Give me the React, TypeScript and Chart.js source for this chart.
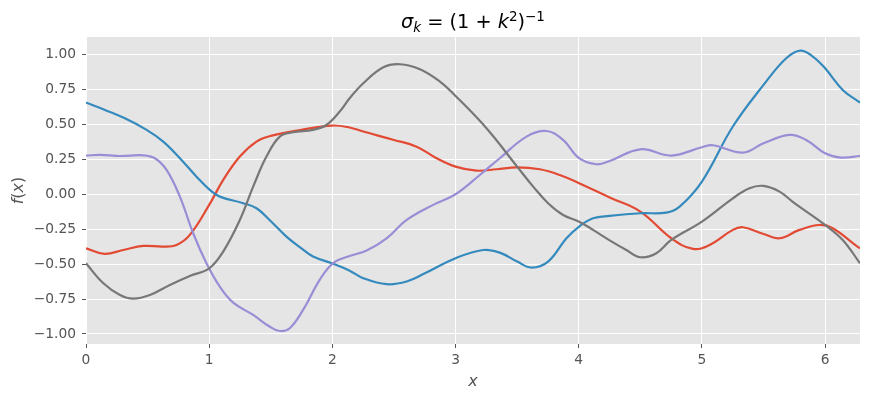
import { useEffect, useRef } from 'react';
import { Chart, registerables } from 'chart.js';

Chart.register(...registerables);

const TWO_PI = 2 * Math.PI;

const redX = [0, 0.149, 0.303, 0.465, 0.627, 0.735, 0.843, 1.0, 1.114, 1.249, 1.384, 1.5, 1.749, 1.997, 2.14, 2.251, 2.5, 2.684, 2.846, 3.0, 3.17, 3.332, 3.5, 3.684, 3.846, 4.003, 4.251, 4.5, 4.751, 4.927, 5.062, 5.251, 5.332, 5.5, 5.63, 5.792, 5.954, 6.062, 6.251, TWO_PI];
const redY = [-0.387, -0.427, -0.399, -0.37, -0.375, -0.363, -0.291, -0.076, 0.103, 0.27, 0.377, 0.418, 0.461, 0.492, 0.478, 0.449, 0.389, 0.341, 0.258, 0.198, 0.169, 0.179, 0.193, 0.179, 0.138, 0.079, -0.023, -0.124, -0.315, -0.391, -0.363, -0.255, -0.236, -0.284, -0.315, -0.255, -0.22, -0.243, -0.368, -0.387];

const blueX = [0, 0.154, 0.316, 0.492, 0.627, 0.762, 0.897, 1.005, 1.086, 1.276, 1.384, 1.49, 1.627, 1.749, 1.843, 1.997, 2.14, 2.251, 2.44, 2.603, 2.751, 3.0, 3.224, 3.359, 3.5, 3.616, 3.751, 3.9, 4.003, 4.116, 4.251, 4.5, 4.711, 4.819, 5.0, 5.251, 5.5, 5.684, 5.8, 5.9, 6.0, 6.143, TWO_PI];
const blueY = [0.656, 0.604, 0.544, 0.461, 0.377, 0.258, 0.126, 0.031, -0.017, -0.064, -0.1, -0.184, -0.303, -0.387, -0.446, -0.494, -0.547, -0.601, -0.644, -0.625, -0.566, -0.458, -0.399, -0.418, -0.482, -0.525, -0.482, -0.315, -0.231, -0.172, -0.155, -0.136, -0.131, -0.088, 0.091, 0.485, 0.783, 0.974, 1.029, 0.986, 0.902, 0.747, 0.656];

const purpleX = [0, 0.114, 0.276, 0.465, 0.559, 0.654, 0.762, 0.87, 0.978, 1.086, 1.195, 1.357, 1.49, 1.573, 1.654, 1.762, 1.897, 2.005, 2.14, 2.278, 2.44, 2.603, 2.819, 3.0, 3.197, 3.359, 3.576, 3.738, 3.873, 4.003, 4.143, 4.251, 4.5, 4.751, 5.0, 5.089, 5.332, 5.5, 5.711, 5.846, 6.0, 6.13, TWO_PI];
const purpleY = [0.277, 0.282, 0.274, 0.279, 0.258, 0.174, -0.017, -0.279, -0.494, -0.661, -0.776, -0.864, -0.947, -0.979, -0.959, -0.828, -0.613, -0.494, -0.442, -0.403, -0.315, -0.184, -0.076, 0.0, 0.138, 0.258, 0.413, 0.453, 0.389, 0.258, 0.215, 0.238, 0.322, 0.277, 0.337, 0.351, 0.298, 0.365, 0.425, 0.389, 0.294, 0.263, 0.274];

const grayX = [0, 0.141, 0.276, 0.384, 0.519, 0.681, 0.843, 1.0, 1.114, 1.249, 1.357, 1.465, 1.573, 1.681, 1.843, 1.951, 2.06, 2.14, 2.251, 2.414, 2.549, 2.711, 2.873, 3.0, 3.251, 3.5, 3.63, 3.751, 3.873, 4.003, 4.116, 4.251, 4.386, 4.5, 4.63, 4.751, 5.0, 5.251, 5.386, 5.5, 5.63, 5.751, 6.0, 6.143, TWO_PI];
const grayY = [-0.494, -0.637, -0.721, -0.747, -0.721, -0.649, -0.585, -0.53, -0.41, -0.184, 0.055, 0.27, 0.413, 0.444, 0.461, 0.496, 0.592, 0.687, 0.795, 0.909, 0.931, 0.895, 0.807, 0.704, 0.473, 0.198, 0.055, -0.064, -0.148, -0.196, -0.255, -0.33, -0.399, -0.451, -0.422, -0.327, -0.196, -0.029, 0.043, 0.06, 0.019, -0.064, -0.22, -0.327, -0.494];

const xTicks = [0, 1, 2, 3, 4, 5, 6];
const yTicks = [-1, -0.75, -0.5, -0.25, 0, 0.25, 0.5, 0.75, 1];

const seriesColors = ['#E24A33', '#348ABD', '#988ED5', '#777777'];

const FONT = '"DejaVu Sans", sans-serif';

function pts(xs: number[], ys: number[]) {
  return xs.map((x, i) => ({ x, y: ys[i] }));
}

const textPlugin = {
  id: 'mplText',
  afterDraw(chart: any) {
    const ctx: CanvasRenderingContext2D = chart.ctx;
    const { left, right, top, bottom } = chart.chartArea;
    const cx = (left + right) / 2;
    ctx.save();
    // Title
    const big = 19.3;
    const small = big * 0.7;
    const parts = [
      { t: 'σ', f: `italic ${big}px ${FONT}`, dy: 0 },
      { t: 'k', f: `italic ${small}px ${FONT}`, dy: 3.5 },
      { t: ' = (1 + ', f: `${big}px ${FONT}`, dy: 0 },
      { t: 'k', f: `italic ${big}px ${FONT}`, dy: 0 },
      { t: '2', f: `${small}px ${FONT}`, dy: -7.5 },
      { t: ')', f: `${big}px ${FONT}`, dy: 0 },
      { t: '−1', f: `${small}px ${FONT}`, dy: -7.5 },
    ];
    let total = 0;
    const widths = parts.map((p) => {
      ctx.font = p.f;
      const w = ctx.measureText(p.t).width;
      total += w;
      return w;
    });
    let x = cx - total / 2;
    const baseY = top - 9;
    ctx.fillStyle = '#000000';
    ctx.textBaseline = 'alphabetic';
    ctx.textAlign = 'left';
    parts.forEach((p, i) => {
      ctx.font = p.f;
      ctx.fillText(p.t, x, baseY + p.dy);
      x += widths[i];
    });

    // X axis label
    ctx.fillStyle = '#555555';
    ctx.font = `italic 16px ${FONT}`;
    ctx.textAlign = 'center';
    ctx.fillText('x', cx, bottom + 42);

    // Y axis label
    ctx.save();
    ctx.translate(23, (top + bottom) / 2);
    ctx.rotate(-Math.PI / 2);
    const yparts = [
      { t: 'f', f: `italic 16px ${FONT}` },
      { t: '(', f: `16px ${FONT}` },
      { t: 'x', f: `italic 16px ${FONT}` },
      { t: ')', f: `16px ${FONT}` },
    ];
    let yt = 0;
    const yw = yparts.map((p) => {
      ctx.font = p.f;
      const w = ctx.measureText(p.t).width;
      yt += w;
      return w;
    });
    let yx = -yt / 2;
    ctx.textAlign = 'left';
    yparts.forEach((p, i) => {
      ctx.font = p.f;
      ctx.fillText(p.t, yx, 0);
      yx += yw[i];
    });
    ctx.restore();
    ctx.restore();
  },
};

const bgPlugin = {
  id: 'plotBg',
  beforeDraw(chart: any) {
    const ctx: CanvasRenderingContext2D = chart.ctx;
    const { left, top, width, height } = chart.chartArea;
    ctx.save();
    ctx.fillStyle = '#FFFFFF';
    ctx.fillRect(0, 0, chart.width, chart.height);
    ctx.fillStyle = '#E5E5E5';
    ctx.fillRect(left, top, width, height);
    ctx.restore();
  },
};

export default function App() {
  const canvasRef = useRef<HTMLCanvasElement | null>(null);

  useEffect(() => {
    document.body.style.margin = '0';
    const canvas = canvasRef.current;
    if (!canvas) return;
    const mk = (xs: number[], ys: number[], color: string, order: number) => ({
      data: pts(xs, ys),
      borderColor: color,
      backgroundColor: color,
      borderWidth: 2.2,
      pointRadius: 0,
      fill: false,
      tension: 0.4,
      order,
    });
    const chart = new Chart(canvas, {
      type: 'line',
      data: {
        datasets: [
          mk(redX, redY, seriesColors[0], 4),
          mk(blueX, blueY, seriesColors[1], 3),
          mk(purpleX, purpleY, seriesColors[2], 2),
          mk(grayX, grayY, seriesColors[3], 1),
        ],
      },
      options: {
        animation: false,
        responsive: true,
        maintainAspectRatio: false,
        devicePixelRatio: 1,
        layout: { padding: { top: 37, right: 10, left: 0, bottom: 0 } },
        plugins: {
          legend: { display: false },
          title: { display: false },
          tooltip: { enabled: false },
        },
        scales: {
          x: {
            type: 'linear',
            min: 0,
            max: TWO_PI,
            afterBuildTicks: (scale: any) => {
              scale.ticks = xTicks.map((v) => ({ value: v }));
            },
            afterFit: (scale: any) => {
              scale.height = 57;
            },
            border: { display: false },
            grid: {
              color: '#FFFFFF',
              lineWidth: 1,
              drawTicks: true,
              tickLength: 4,
              tickColor: '#555555',
            },
            ticks: {
              color: '#555555',
              font: { family: FONT, size: 13.8 },
              padding: 4,
              maxRotation: 0,
              callback: (v: any) => String(v),
            },
          },
          y: {
            type: 'linear',
            min: -1.072,
            max: 1.126,
            afterBuildTicks: (scale: any) => {
              scale.ticks = yTicks.map((v) => ({ value: v }));
            },
            afterFit: (scale: any) => {
              scale.width = 86;
            },
            border: { display: false },
            grid: {
              color: '#FFFFFF',
              lineWidth: 1,
              drawTicks: true,
              tickLength: 4,
              tickColor: '#555555',
            },
            ticks: {
              color: '#555555',
              font: { family: FONT, size: 13.8 },
              padding: 6,
              callback: (v: any) => {
                const n = Number(v);
                const s = Math.abs(n).toFixed(2);
                return n < 0 ? '−' + s : s;
              },
            },
          },
        },
      },
      plugins: [bgPlugin, textPlugin],
    });
    return () => {
      chart.destroy();
    };
  }, []);

  return (
    <div style={{ width: '870px', height: '401px', position: 'relative' }}>
      <canvas ref={canvasRef} />
    </div>
  );
}
